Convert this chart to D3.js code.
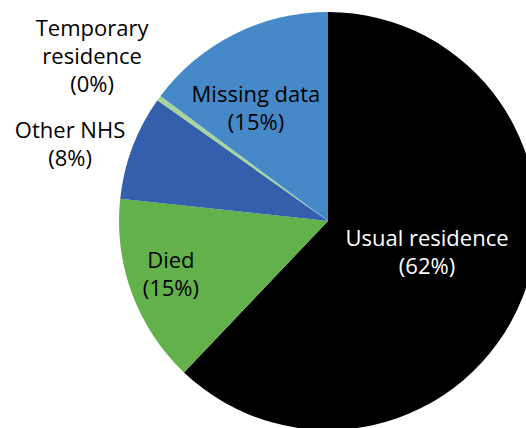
<!DOCTYPE html>
<head>
  <meta charset="utf-8">
  <script src="https://d3js.org/d3.v7.min.js"></script>
  <style>
    body{ margin:0; background:#fff; }
    .slice-label{
      font-family:"Open Sans", sans-serif;
      font-size:22px;
    }
  </style>
</head>
<body>
  <svg width="526" height="428" id="pie"></svg>
  <script>
    //slice data, clockwise from 12 o'clock
    var categories = ["Usual residence", "Died", "Other NHS", "Temporary residence", "Missing data"];
    var values = [62.1, 14.6, 8.1, 0.4, 14.8];
    var labelText = ["62%", "15%", "8%", "0%", "15%"];
    //how each category name is wrapped
    var labelLines = [["Usual residence"], ["Died"], ["Other NHS"], ["Temporary", "residence"], ["Missing data"]];

    var colors = ["#000000", "#62b14b", "#335fac", "#a9d49b", "#4689c8"];
    var textColors = ["#ffffff", "#000000", "#000000", "#000000", "#000000"];
    //label placement: distance from centre (fraction of radius), angle shift from slice middle (deg)
    var labelR = [0.497, 0.794, 1.288, 1.378, 0.639];
    var labelShift = [-4.2, 1.4, -4.1, -1.0, -6.0];

    var svg = d3.select("svg#pie");
    var cx = 328, cy = 221, radius = 209;
    var lineH = 28;

    var pie = d3.pie().sort(null).value(function(d){ return d; });
    var arcs = pie(values);
    var arc = d3.arc().innerRadius(0).outerRadius(radius);

    var g = svg.append("g").attr("transform", "translate(" + cx + "," + cy + ")");

    g.selectAll("path")
      .data(arcs)
      .enter().append("path")
      .attr("d", arc)
      .attr("fill", function(d, i){ return colors[i]; });

    //labels
    arcs.forEach(function(d, i){
      var a = (d.startAngle + d.endAngle) / 2 + labelShift[i] * Math.PI / 180;
      var r = radius * labelR[i];
      var x = Math.sin(a) * r;
      var y = -Math.cos(a) * r;
      var lines = labelLines[i].concat(["(" + labelText[i] + ")"]);
      var t = g.append("text")
        .attr("class", "slice-label")
        .attr("text-anchor", "middle")
        .attr("fill", textColors[i]);
      lines.forEach(function(s, k){
        t.append("tspan")
          .attr("x", x)
          .attr("y", y + (k - (lines.length - 1) / 2) * lineH)
          .attr("dy", "0.35em")
          .text(s);
      });
    });
  </script>
</body>
